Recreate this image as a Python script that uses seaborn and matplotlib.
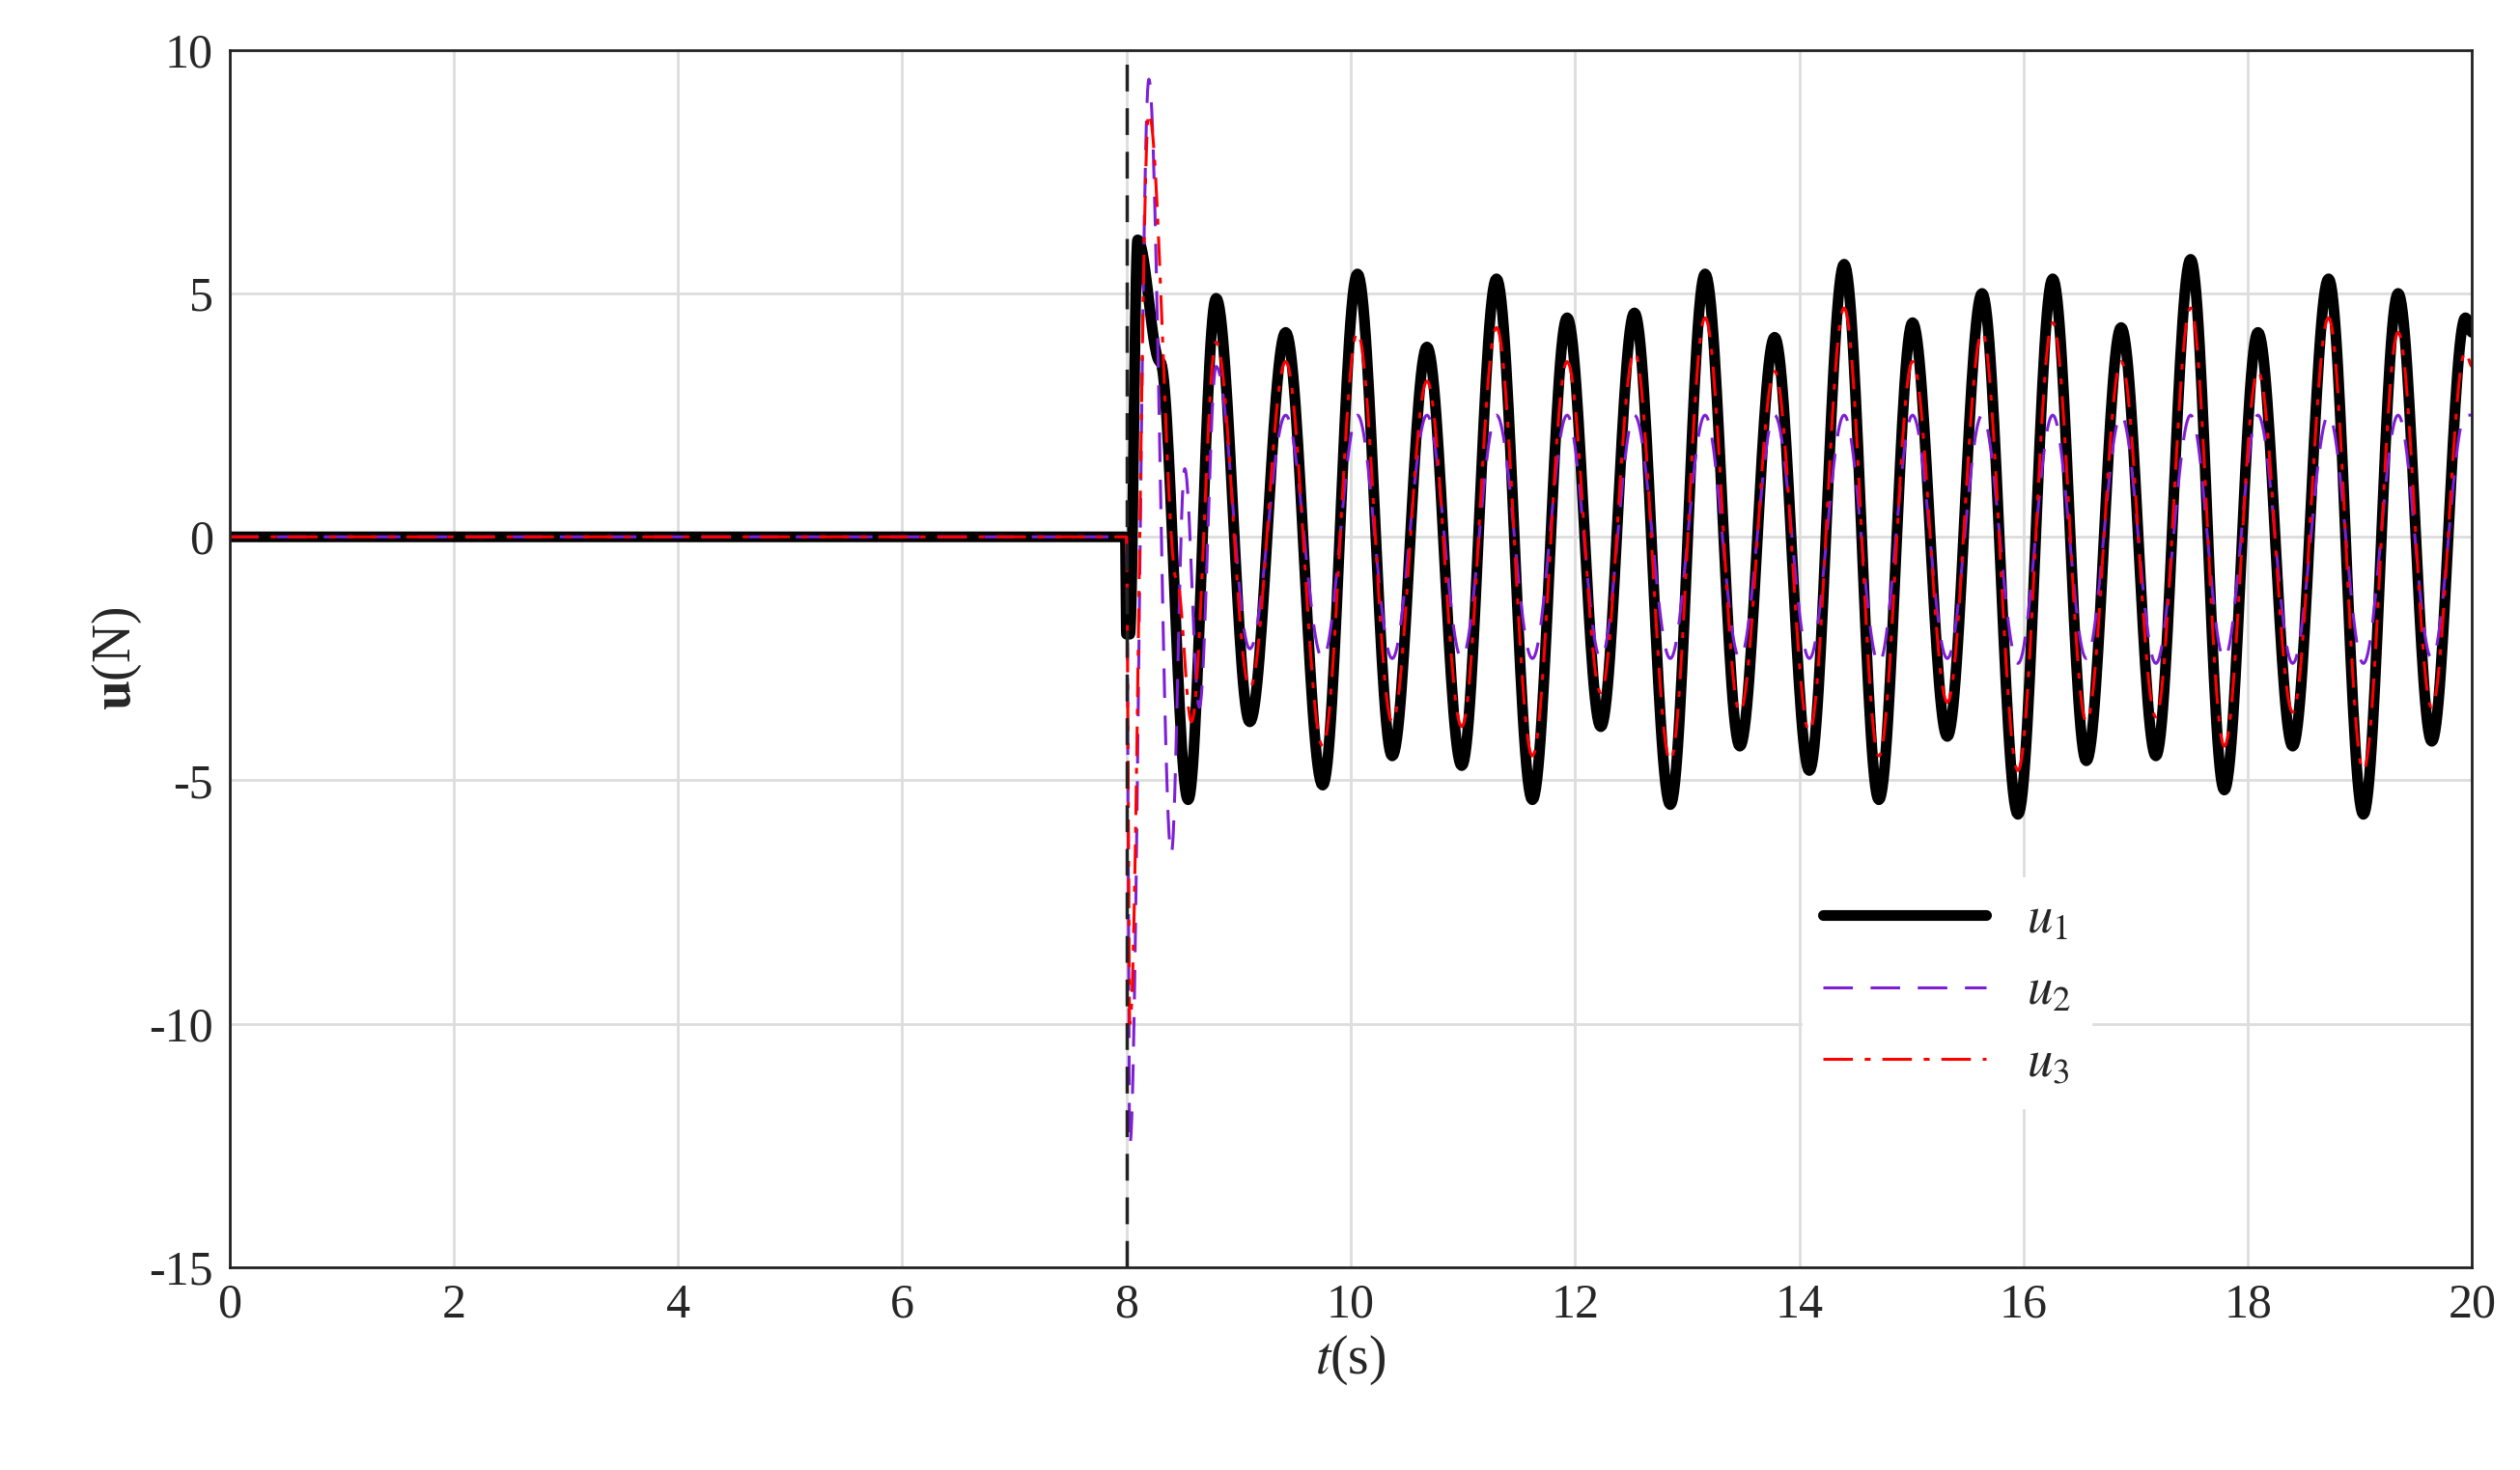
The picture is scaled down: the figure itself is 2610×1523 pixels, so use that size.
import numpy as np
import matplotlib
matplotlib.use('Agg')
import matplotlib.pyplot as plt
import seaborn as sns

# extrema (time, value), steady-state part
u1_t = [0, 7.99, 8.0, 8.03, 8.1, 8.3, 8.55, 8.8, 9.1, 9.42, 9.75, 10.06, 10.37, 10.68, 10.99,
        11.3, 11.62, 11.93, 12.23, 12.53, 12.85, 13.16, 13.47, 13.78, 14.09, 14.4, 14.71,
        15.01, 15.32, 15.63, 15.95, 16.26, 16.56, 16.87, 17.18, 17.49, 17.79, 18.09, 18.4,
        18.72, 19.03, 19.34, 19.64, 19.94, 20.0]
u1_v = [0, 0, -2.0, -2.0, 6.1, 3.6, -5.4, 4.9, -3.8, 4.2, -5.1, 5.4, -4.5, 3.9, -4.7,
        5.3, -5.4, 4.5, -3.9, 4.6, -5.5, 5.4, -4.3, 4.1, -4.8, 5.6, -5.4,
        4.4, -4.1, 5.0, -5.7, 5.3, -4.6, 4.3, -4.5, 5.7, -5.2, 4.2, -4.3,
        5.3, -5.7, 5.0, -4.2, 4.5, 4.2]
u2_t = [0, 8.0, 8.03, 8.2, 8.4, 8.52, 8.65, 8.8, 9.1, 9.42, 9.75, 10.06, 10.37, 10.68, 10.99,
        11.3, 11.62, 11.93, 12.23, 12.53, 12.85, 13.16, 13.47, 13.78, 14.09, 14.4, 14.71,
        15.01, 15.32, 15.63, 15.95, 16.26, 16.56, 16.87, 17.18, 17.49, 17.79, 18.09, 18.4,
        18.72, 19.03, 19.34, 19.64, 19.94, 20.0]
u2_v = [0, 0, -12.5, 9.4, -6.5, 1.4, -3.5, 3.5, -2.3, 2.5, -2.5, 2.5, -2.5, 2.5, -2.5,
        2.5, -2.5, 2.5, -2.5, 2.5, -2.5, 2.5, -2.5, 2.5, -2.5, 2.5, -2.6,
        2.5, -2.5, 2.5, -2.6, 2.5, -2.5, 2.5, -2.6, 2.5, -2.5, 2.5, -2.6,
        2.5, -2.6, 2.5, -2.5, 2.5, 2.5]
u3_t = [0, 8.0, 8.03, 8.2, 8.45, 8.58, 8.8, 9.1, 9.42, 9.75, 10.06, 10.37, 10.68, 10.99,
        11.3, 11.62, 11.93, 12.23, 12.53, 12.85, 13.16, 13.47, 13.78, 14.09, 14.4, 14.71,
        15.01, 15.32, 15.63, 15.95, 16.26, 16.56, 16.87, 17.18, 17.49, 17.79, 18.09, 18.4,
        18.72, 19.03, 19.34, 19.64, 19.94, 20.0]
u3_v = [0, 0, -10.0, 8.7, -0.9, -3.8, 4.0, -3.1, 3.6, -4.3, 4.2, -3.8, 3.2, -3.9,
        4.3, -4.5, 3.6, -3.2, 3.8, -4.6, 4.5, -3.6, 3.4, -4.0, 4.7, -4.5,
        3.6, -3.4, 4.2, -4.8, 4.4, -3.8, 3.6, -3.7, 4.7, -4.3, 3.4, -3.6,
        4.5, -4.8, 4.2, -3.5, 3.8, 3.5]


def smooth(t, v, n=30):
    # half-cosine segments between consecutive extrema
    xs, ys = [], []
    for i in range(len(t) - 1):
        s = np.linspace(0, 1, n, endpoint=False)
        w = (1 - np.cos(np.pi * s)) / 2
        xs.append(t[i] + (t[i + 1] - t[i]) * s)
        ys.append(v[i] + (v[i + 1] - v[i]) * w)
    xs.append([t[-1]])
    ys.append([v[-1]])
    return np.concatenate(xs), np.concatenate(ys)


sns.set_style('white')
plt.rcParams['font.family'] = ['Liberation Serif', 'DejaVu Serif']
plt.rcParams['mathtext.fontset'] = 'stix'

fig = plt.figure(figsize=(26.1, 15.23), dpi=100)
ax = fig.add_axes([0.091, 0.138, 0.89, 0.828])

x1, y1 = smooth(u1_t, u1_v)
x2, y2 = smooth(u2_t, u2_v)
x3, y3 = smooth(u3_t, u3_v)
sns.lineplot(x=x1, y=y1, ax=ax, color='black', lw=8, label='$u_1$', sort=False, estimator=None)
sns.lineplot(x=x2, y=y2, ax=ax, color='#7e1fd6', lw=2.2, dashes=(10, 6), label='$u_2$',
             sort=False, estimator=None)
l3 = sns.lineplot(x=x3, y=y3, ax=ax, color='red', lw=2.2, label='$u_3$', sort=False, estimator=None)
ax.lines[1].set_dashes((10, 6))
ax.lines[2].set_dashes((10, 4, 2, 4))
ax.axvline(8, color='#222222', lw=2.5, ls=(0, (8, 5)))

ax.set_xlim(0, 20)
ax.set_ylim(-15, 10)
ax.set_xticks(range(0, 21, 2))
ax.set_yticks(range(-15, 11, 5))
ax.set_yticklabels(['-15', '-10', '-5', '0', '5', '10'])
ax.grid(True, color='#dddddd', lw=2)
for s in ax.spines.values():
    s.set_color('#222222')
    s.set_linewidth(2)
ax.tick_params(labelsize=36, direction='in', length=10, width=2, pad=12)
ax.set_xlabel('$t$(s)', fontsize=40)
ax.set_ylabel(r'$\mathbf{u}$(N)', fontsize=40)

leg = ax.legend(loc='lower left', bbox_to_anchor=(0.69, 0.11), fontsize=38, frameon=True,
                fancybox=False, edgecolor='white', handlelength=3.2, labelspacing=0.5)
leg.get_frame().set_alpha(1)

fig.savefig('out.png', dpi=100)
